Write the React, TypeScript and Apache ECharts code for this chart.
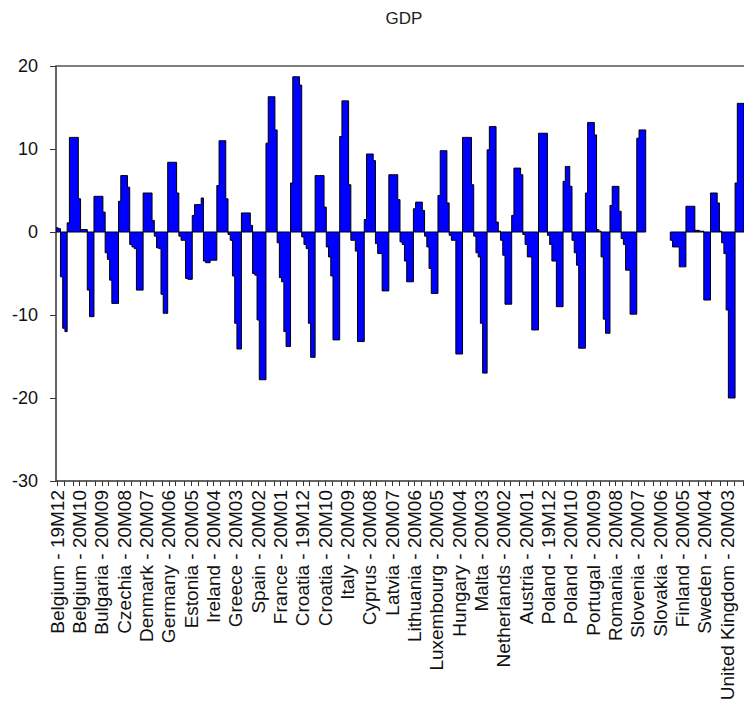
import React, { useEffect, useRef } from "react";
import * as echarts from "echarts";

const countries = [
  "Belgium", "Bulgaria", "Czechia", "Denmark", "Germany", "Estonia", "Ireland",
  "Greece", "Spain", "France", "Croatia", "Italy", "Cyprus", "Latvia", "Lithuania",
  "Luxembourg", "Hungary", "Malta", "Netherlands", "Austria", "Poland", "Portugal",
  "Romania", "Slovenia", "Slovakia", "Finland", "Sweden", "United Kingdom",
];
const months = ["19M12", "20M01", "20M02", "20M03", "20M04", "20M05", "20M06", "20M07", "20M08", "20M09", "20M10"];

const belgium = [0.5, 0.4, -5.4, -11.6, -12.0, 1.1, 11.4, 11.4, 11.4, 11.4, 4.0];
const bulgaria = [0.3, 0.3, 0.3, -7.0, -10.2, -10.2, 4.3, 4.3, 4.3, 4.3, 2.4];
const czechia = [-2.5, -3.3, -5.8, -8.6, -8.6, -8.6, 3.7, 6.8, 6.8, 6.8, 5.4];
const denmark = [-1.5, -1.8, -2.0, -7.0, -7.0, -7.0, 4.7, 4.7, 4.7, 4.7, 1.4];
const germany = [-0.5, -1.9, -2.0, -7.5, -9.8, -9.8, 8.4, 8.4, 8.4, 8.4, 4.7];
const estonia = [-0.5, -1.0, -1.0, -5.6, -5.7, -5.7, 2.0, 3.3, 3.3, 3.3, 4.1];
const ireland = [-3.5, -3.7, -3.7, -3.4, -3.4, -3.4, 5.6, 11.0, 11.0, 11.0, 4.0];
const greece = [-0.3, -1.0, -5.3, -11.0, -14.1, -14.1, 2.3, 2.3, 2.3, 2.3, 0.8];
const spain = [-5.0, -5.2, -10.6, -17.8, -17.8, -17.8, 10.7, 16.3, 16.3, 16.3, 12.3];
const france = [-1.3, -5.5, -6.0, -12.0, -13.8, -13.8, 5.9, 18.7, 18.7, 18.7, 17.7];
const croatia = [-0.6, -1.5, -2.0, -11.0, -15.1, -15.1, 6.8, 6.8, 6.8, 6.8, 3.0];
const italy = [-1.8, -3.0, -5.3, -13.0, -13.0, -13.0, 11.5, 15.8, 15.8, 15.8, 5.7];
const cyprus = [-1.0, -1.0, -2.3, -13.2, -13.2, -13.2, 1.5, 9.4, 9.4, 9.4, 8.6];
const latvia = [-1.4, -2.6, -2.6, -7.1, -7.1, -7.1, 6.9, 6.9, 6.9, 6.9, 3.9];
const lithuania = [-1.2, -1.5, -3.5, -6.0, -6.0, -6.0, 2.8, 3.6, 3.6, 3.6, 2.6];
const luxembourg = [-0.5, -1.8, -4.4, -7.4, -7.4, -7.4, 4.4, 9.8, 9.8, 9.8, 3.5];
const hungary = [-0.4, -1.0, -1.0, -14.7, -14.7, -14.7, 11.4, 11.4, 11.4, 11.4, 5.7];
const malta = [-0.5, -2.5, -3.0, -11.0, -17.0, -17.0, 9.9, 12.7, 12.7, 12.7, 1.2];
const netherlands = [0.1, -1.0, -2.8, -8.7, -8.7, -8.7, 2.0, 7.7, 7.7, 7.7, 6.9];
const austria = [-0.3, -1.5, -3.0, -3.0, -11.8, -11.8, -11.8, 11.9, 11.9, 11.9, 11.9];
const poland = [-0.4, -1.5, -3.5, -3.5, -9.0, -9.0, -9.0, 6.1, 7.9, 7.9, 5.5];
const portugal = [-1.0, -2.5, -4.0, -14.0, -14.0, -14.0, 4.7, 13.2, 13.2, 13.2, 11.7];
const romania = [0.3, 0.1, -3.0, -10.5, -12.2, -12.2, 3.2, 5.5, 5.5, 5.5, 2.5];
const slovenia = [-0.8, -1.5, -4.6, -4.6, -9.9, -9.9, -9.9, 11.3, 12.3, 12.3, 12.3];
const slovakia: (number | null)[] = [null, null, null, null, null, null, null, null, null, null, null];
const finland = [-1.0, -1.8, -1.8, -1.8, -4.2, -4.2, -4.2, 3.1, 3.1, 3.1, 3.1];
const sweden = [0.2, 0.2, 0.1, 0.1, -8.2, -8.2, -8.2, 4.7, 4.7, 4.7, 3.5];
const unitedKingdom = [0.1, -1.3, -2.6, -9.4, -20.0, -20.0, -20.0, 5.9, 15.5, 15.5, 15.5];

const countryValues: (number | null)[][] = [
  belgium, bulgaria, czechia, denmark, germany, estonia, ireland, greece, spain,
  france, croatia, italy, cyprus, latvia, lithuania, luxembourg, hungary, malta,
  netherlands, austria, poland, portugal, romania, slovenia, slovakia, finland,
  sweden, unitedKingdom,
];

const yTicks = [-30, -20, -10, 0, 10, 20];

const FONT = "'Liberation Sans', Arial, sans-serif";

export default function App() {
  const ref = useRef<HTMLDivElement>(null);
  useEffect(() => {
    if (!ref.current) return;
    const chart = echarts.init(ref.current, null, { renderer: "svg" });
    const perCountry = months.length;
    const categories = countries.flatMap((c) => months.map((m) => `${c} - ${m}`));
    // one item per country: [first category index, baseline 0, country index]
    const blocks = countries.map((_, ci) => [ci * perCountry, 0, ci]);

    const renderBlock = (params: any, api: any) => {
      const ci = api.value(2) as number;
      const vals = countryValues[ci];
      if (vals.every((v) => v === null)) return null;
      const start = ci * perCountry;
      const band = api.size([1, 0])[0];
      const pts: number[][] = [];
      const first = api.coord([start, 0]);
      pts.push([first[0] - band / 2, first[1]]);
      vals.forEach((v, j) => {
        const p = api.coord([start + j, v === null ? 0 : v]);
        pts.push([p[0] - band / 2, p[1]]);
        pts.push([p[0] + band / 2, p[1]]);
      });
      const last = api.coord([start + vals.length - 1, 0]);
      pts.push([last[0] + band / 2, last[1]]);
      return {
        type: "polygon",
        shape: { points: pts },
        style: { fill: "#0000ff", stroke: "#000000", lineWidth: 1, lineJoin: "miter" },
      };
    };

    chart.setOption({
      animation: false,
      backgroundColor: "#ffffff",
      graphic: [
        {
          type: "text",
          x: 404,
          y: 18,
          style: {
            text: "GDP",
            fontSize: 17,
            fontFamily: FONT,
            fill: "#222",
            textAlign: "center",
            textVerticalAlign: "middle",
          },
        },
      ],
      grid: { left: 56, top: 66, right: -5, bottom: 227, containLabel: false },
      xAxis: [
        {
          type: "category",
          data: categories,
          position: "bottom",
          boundaryGap: true,
          axisLine: { show: true, onZero: false, lineStyle: { color: "#333", width: 1.5 } },
          axisTick: {
            show: true,
            alignWithLabel: true,
            length: 5,
            inside: false,
            interval: (i: number) => i % 10 === 0 || i % 10 === 3 || i % 10 === 7,
            lineStyle: { color: "#333", width: 1 },
          },
          axisLabel: {
            interval: 9,
            rotate: 90,
            margin: 9,
            fontSize: 19,
            fontFamily: FONT,
            color: "#111",
          },
          splitLine: { show: false },
        },
        {
          type: "category",
          data: categories,
          position: "top",
          axisLine: { show: true, onZero: false, lineStyle: { color: "#555", width: 1.5 } },
          axisTick: { show: false },
          axisLabel: { show: false },
          splitLine: { show: false },
        },
      ],
      yAxis: {
        type: "value",
        min: yTicks[0],
        max: yTicks[yTicks.length - 1],
        interval: 10,
        axisLine: { show: true, lineStyle: { color: "#333", width: 1.5 } },
        axisTick: { show: true, length: 6, lineStyle: { color: "#333" } },
        axisLabel: { margin: 18, fontSize: 18, fontFamily: FONT, color: "#111" },
        splitLine: { show: false },
      },
      series: [
        {
          type: "custom",
          name: "GDP",
          coordinateSystem: "cartesian2d",
          xAxisIndex: 0,
          yAxisIndex: 0,
          data: blocks,
          encode: { x: 0, y: 1 },
          renderItem: renderBlock,
          clip: true,
          z: 2,
        },
      ],
    });
    return () => chart.dispose();
  }, []);
  return (
    <div
      ref={ref}
      style={{ position: "absolute", left: 0, top: 0, width: 744, height: 708, overflow: "hidden" }}
    />
  );
}
